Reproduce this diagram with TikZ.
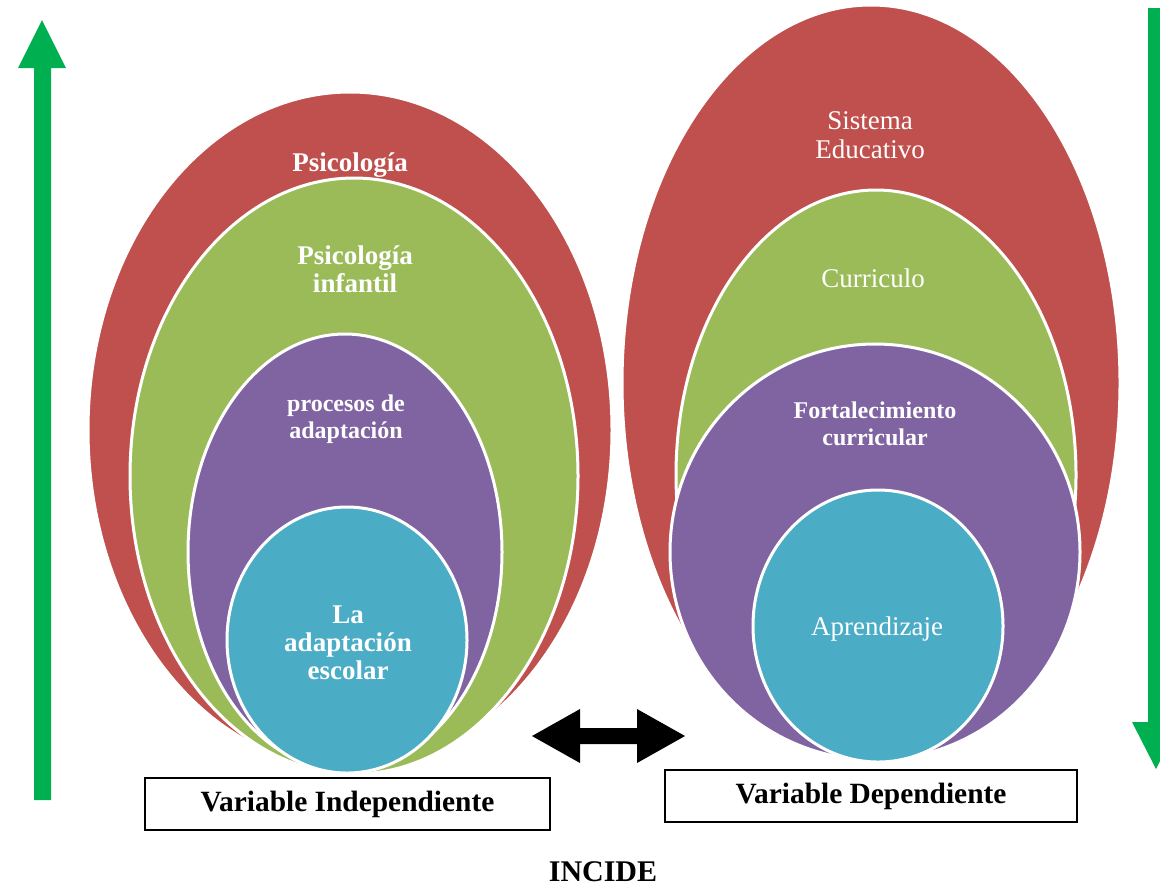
\documentclass[tikz,border=0pt]{standalone}
\usepackage{fontspec}
\setmainfont{Liberation Serif}
\usepackage{xcolor}
\definecolor{ringred}{RGB}{192,80,77}
\definecolor{ringgreen}{RGB}{155,187,89}
\definecolor{ringpurple}{RGB}{128,100,162}
\definecolor{ringcyan}{RGB}{75,172,198}
\definecolor{arrowgreen}{RGB}{0,176,80}
\usepackage{tikz}
\usetikzlibrary{positioning}

\begin{document}
\begin{tikzpicture}[x=0.5pt,y=-0.5pt,
    ring/.style={draw=white,line width=1.5pt},
    lbl/.style={text=white,align=center,font=\fontsize{13.5}{14.5}\selectfont},
    boldlbl/.style={lbl,font=\bfseries\fontsize{13.5}{14}\selectfont},
    smalllbl/.style={lbl,font=\bfseries\fontsize{12}{13.25}\selectfont},
    varbox/.style={draw=black,line width=0.8pt,minimum width=202.5pt,minimum height=26pt,
                   inner sep=0pt,font=\bfseries\fontsize{14.7}{16}\selectfont}]
  \clip (0,0) rectangle (1160,891);

  % left group
  \fill[ringred,ring] (350,430) ellipse [x radius=262, y radius=338];
  \fill[ringgreen,ring] (354,476) ellipse [x radius=224, y radius=298];
  \fill[ringpurple,ring] (345,552) ellipse [x radius=157, y radius=218];
  \fill[ringcyan,ring] (347,640) ellipse [x radius=120, y radius=133];

  \node[boldlbl] (psico) at (350,165) {Psicología};
  \node[boldlbl] (psicoinf) at (355,269) {Psicología\\infantil};
  \node[smalllbl] (procesos) at (346,419) {procesos de\\adaptación};
  \node[boldlbl] (adaptacion) at (348,643) {La\\adaptación\\escolar};

  % right group
  \fill[ringred,ring] (871,383) ellipse [x radius=249, y radius=378];
  \fill[ringgreen,ring] (876,475) ellipse [x radius=200, y radius=285];
  \fill[ringpurple,ring] (875,552) ellipse [x radius=205, y radius=208];
  \fill[ringcyan,ring] (878,626) ellipse [x radius=125, y radius=136];

  \node[lbl] (sistema) at (870,135) {Sistema\\Educativo};
  \node[lbl] (curriculo) at (873,278) {Curriculo};
  \node[smalllbl] (fortalec) at (875,424) {Fortalecimiento\\curricular};
  \node[lbl] (aprendizaje) at (877,629) {Aprendizaje};

  % arrows
  \fill[arrowgreen] (34,800) -- (51,800) -- (51,68) -- (66,68) -- (42,20)
    -- (18,68) -- (34,68) -- cycle;
  \fill[arrowgreen] (1148,8) -- (1164,8) -- (1164,722) -- (1180,722) -- (1156,769)
    -- (1132,722) -- (1148,722) -- cycle;
  \fill[black] (532,736) -- (580,709) -- (580,728) -- (637,728) -- (637,709)
    -- (685,736) -- (637,763) -- (637,744) -- (580,744) -- (580,763) -- cycle;

  % variables
  \node[varbox] (varind) at (347.5,804) {Variable Independiente};
  \node[varbox,minimum width=206pt] (vardep) at (871,796) {Variable Dependiente};
  \node[font=\bfseries\fontsize{15}{16}\selectfont] (incide) at (603,872) {INCIDE};
\end{tikzpicture}
\end{document}
